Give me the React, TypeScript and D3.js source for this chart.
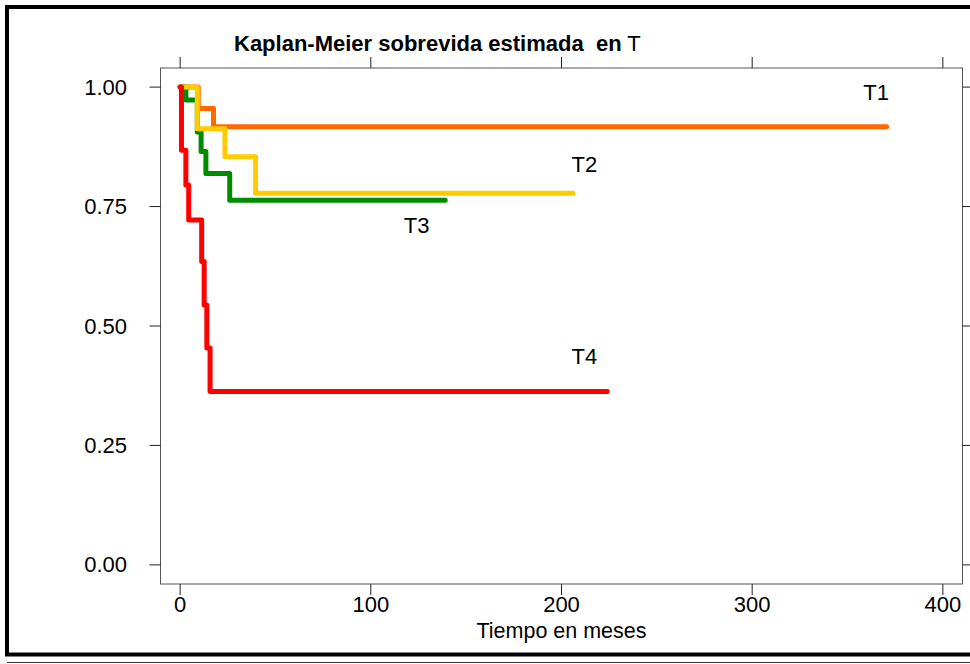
import React from "react";
import * as d3 from "d3";

// Kaplan-Meier step curves per group: event times (months) and survival after each time
const groups = ["T1", "T2", "T3", "T4"];
const colors = ["#FF6A00", "#FFCC00", "#008B00", "#FF0000"];

const t1Times = [0, 9.5, 17.5, 370.5];
const t1Surv = [1, 0.955, 0.917, 0.917];
const t2Times = [0, 9, 23.5, 39.5, 206];
const t2Surv = [1, 0.913, 0.854, 0.778, 0.778];
const t3Times = [0, 3, 9, 11, 13.5, 26, 139];
const t3Surv = [1, 0.973, 0.906, 0.865, 0.819, 0.763, 0.763];
const t4Times = [0, 0.7, 3, 4.5, 11.3, 12.6, 14, 15.7, 224];
const t4Surv = [1, 0.868, 0.795, 0.722, 0.635, 0.544, 0.454, 0.363, 0.363];

// group label anchors in data units (months, survival)
const labelTimes = [365, 212, 124, 212];
const labelSurv = [0.988, 0.837, 0.711, 0.437];

const xTicks = [0, 100, 200, 300, 400];
const yTicks = [0, 0.25, 0.5, 0.75, 1];

const title = "Kaplan-Meier sobrevida estimada  en";
const titleVar = "T";
const xLabel = "Tiempo en meses";

const W = 970;
const H = 664;
const box = { left: 160.5, right: 962.5, top: 68, bottom: 584 };
const FONT = "'Liberation Sans', Arial, sans-serif";

export default function App() {
  const x = d3.scaleLinear().domain([-10.3, 410.3]).range([box.left, box.right]);
  const y = d3.scaleLinear().domain([-0.04, 1.04]).range([box.bottom, box.top]);

  const series = [
    { times: t1Times, surv: t1Surv },
    { times: t2Times, surv: t2Surv },
    { times: t3Times, surv: t3Surv },
    { times: t4Times, surv: t4Surv },
  ];

  const line = d3
    .line<[number, number]>()
    .x((d) => x(d[0]))
    .y((d) => y(d[1]))
    .curve(d3.curveStepAfter);

  // drawing order: T1, T3, T2, T4 (red on top)
  const order = [0, 2, 1, 3];

  const tickLen = 11;
  const axisColor = "#222";

  return (
    <svg
      width={W}
      height={H}
      style={{ position: "absolute", left: 0, top: 0, background: "#fff" }}
      fontFamily={FONT}
    >
      <rect x={0} y={0} width={W} height={H} fill="#fff" />
      {/* outer frame */}
      <path d={`M7,${H - 9.5} V7 H${W + 10}`} fill="none" stroke="#000" strokeWidth={4} />
      <line x1={5} x2={W} y1={654.5} y2={654.5} stroke="#000" strokeWidth={4} />
      <line x1={7} x2={W} y1={662.5} y2={662.5} stroke="#333" strokeWidth={1} />

      {/* plot box */}
      <rect
        x={box.left}
        y={box.top}
        width={box.right - box.left}
        height={box.bottom - box.top}
        fill="none"
        stroke="#555"
        strokeWidth={1}
      />

      {/* x ticks bottom and top */}
      {xTicks.map((t) => (
        <g key={"xt" + t}>
          <line x1={x(t)} x2={x(t)} y1={box.bottom} y2={box.bottom + tickLen} stroke={axisColor} />
          <line x1={x(t)} x2={x(t)} y1={box.top} y2={box.top - tickLen} stroke={axisColor} />
          <text x={x(t)} y={612} textAnchor="middle" fontSize={22} fill="#000">
            {t}
          </text>
        </g>
      ))}

      {/* y ticks left and right */}
      {yTicks.map((v) => (
        <g key={"yt" + v}>
          <line x1={box.left} x2={box.left - tickLen} y1={y(v)} y2={y(v)} stroke={axisColor} />
          <line x1={box.right} x2={box.right + tickLen} y1={y(v)} y2={y(v)} stroke={axisColor} />
          <text
            x={127}
            y={y(v)}
            textAnchor="end"
            dominantBaseline="central"
            fontSize={22}
            fill="#000"
          >
            {d3.format(".2f")(v)}
          </text>
        </g>
      ))}

      {/* curves */}
      {order.map((i) => {
        const s = series[i];
        const pts = s.times.map((t, k) => [t, s.surv[k]] as [number, number]);
        return (
          <path
            key={groups[i]}
            d={line(pts) || ""}
            fill="none"
            stroke={colors[i]}
            strokeWidth={5}
            strokeLinejoin="round"
            strokeLinecap="round"
          />
        );
      })}

      {/* group labels */}
      {groups.map((g, i) => (
        <text
          key={"lab" + g}
          x={x(labelTimes[i])}
          y={y(labelSurv[i])}
          textAnchor="middle"
          dominantBaseline="central"
          fontSize={22}
          fill="#000"
        >
          {g}
        </text>
      ))}

      {/* title */}
      <text x={234} y={51} fontSize={22} fill="#000" style={{ whiteSpace: "pre" }}>
        <tspan fontWeight="bold">{title}</tspan>
        <tspan>{" " + titleVar}</tspan>
      </text>

      {/* x axis label */}
      <text x={x(200)} y={638} textAnchor="middle" fontSize={21.5} fill="#000">
        {xLabel}
      </text>
    </svg>
  );
}
